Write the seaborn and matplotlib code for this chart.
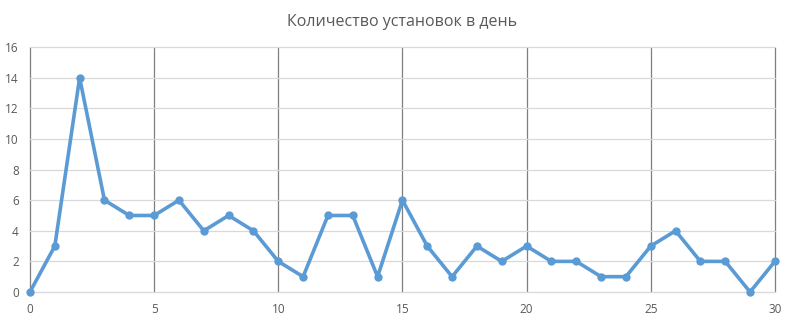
import matplotlib
matplotlib.use("Agg")
import matplotlib.pyplot as plt
import seaborn as sns
import pandas as pd
from matplotlib.ticker import MultipleLocator

days = list(range(0, 31))
installs = [0, 3, 14, 6, 5, 5, 6, 4, 5, 4, 2, 1, 5, 5, 1, 6, 3, 1, 3, 2, 3, 2, 2, 1, 1, 3, 4, 2, 2, 0, 2]
title = "Количество установок в день"

df = pd.DataFrame({"day": days, "installs": installs})

sns.set_style("white")
plt.rcParams['font.family'] = ['Open Sans', 'DejaVu Sans']

fig = plt.figure(figsize=(7.95, 3.23), dpi=100)
ax = fig.add_axes([0.0377, 0.096, 0.937, 0.758])

ax.set_ylim(0, 16)
ax.set_xlim(0, 30)
ax.yaxis.set_major_locator(MultipleLocator(2))
ax.xaxis.set_major_locator(MultipleLocator(5))
ax.xaxis.set_minor_locator(MultipleLocator(2.5))
ax.grid(axis='y', color='#d9d9d9', linewidth=0.9)
ax.grid(axis='x', which='major', color='#7f7f7f', linewidth=0.9)
ax.set_axisbelow(True)

sns.lineplot(data=df, x="day", y="installs", ax=ax, color="#5B9BD5",
             linewidth=2.6, marker="o", markersize=6, markeredgewidth=0, clip_on=False, zorder=5)

for s in ax.spines.values():
    s.set_visible(False)
ax.spines['bottom'].set_visible(True)
ax.spines['bottom'].set_color('#d9d9d9')

ax.tick_params(axis='x', which='major', length=5, color='#7f7f7f', width=0.9, labelsize=8.5, labelcolor='#595959', pad=3)
ax.tick_params(axis='x', which='minor', length=3, color='#d9d9d9', width=0.9)
ax.tick_params(axis='y', length=0, labelsize=8.5, labelcolor='#595959', pad=8)
ax.set_xlabel("")
ax.set_ylabel("")
ax.set_title(title, fontsize=11.5, color='#595959', pad=15)

fig.canvas.draw()
for gl in ax.get_xgridlines() + ax.get_ygridlines():
    gl.set_clip_on(False)

fig.savefig("out.png", dpi=100)
